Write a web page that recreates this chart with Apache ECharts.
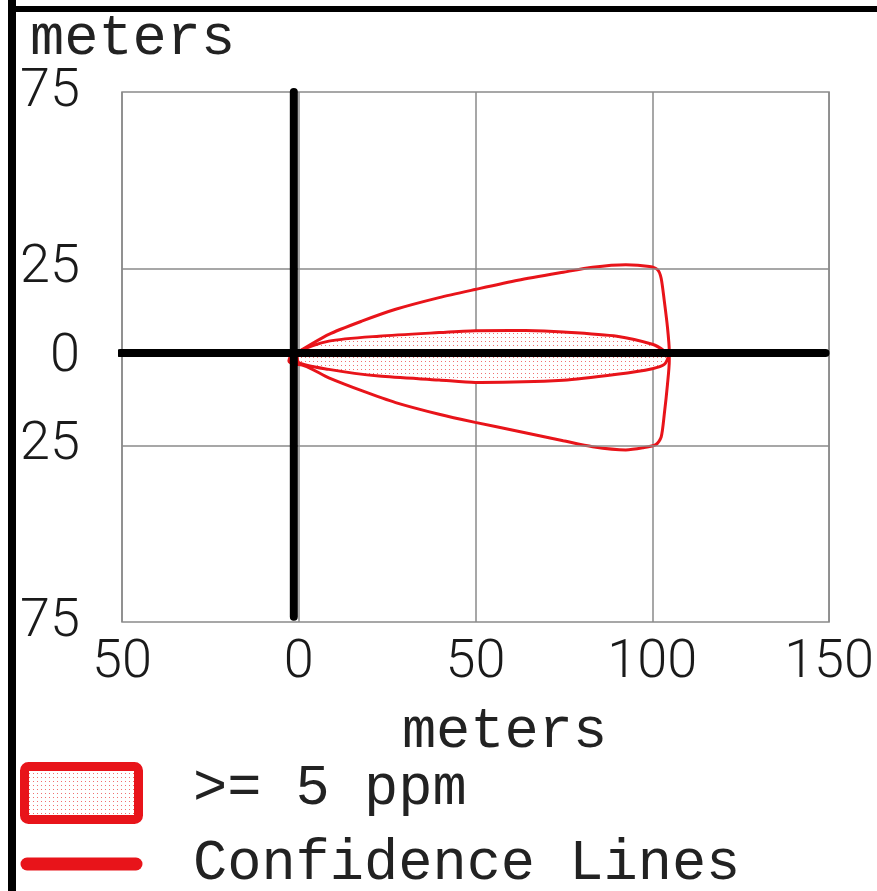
<!DOCTYPE html>
<html>
<head>
<meta charset="utf-8">
<script src="https://cdn.jsdelivr.net/npm/echarts@6/dist/echarts.min.js"></script>
<style>
  html, body { margin: 0; padding: 0; background: #fff; }
  #chart { width: 877px; height: 891px; }
</style>
</head>
<body>
<div id="chart"></div>
<script>
// x / y ticks (labels drawn without sign, as in the picture)
const xTicks = [-50, 0, 50, 100, 150];
const yTickLabels = [-75, -25, 0, 25, 75];
const yGridLines = [25, -25];

// >= 5 ppm footprint, outline in drawing order
const plumeX = [0, 8.5, 22.7, 39.7, 49.9, 64.2, 74.8, 90, 100, 103.4, 104.5,
                103.4, 100, 90, 74.8, 49.9, 39.7, 22.7, 8.5, 0];
const plumeY = [1.5, 4.5, 5.9, 6.9, 7.4, 7.5, 7.1, 5.9, 3.6, 1.7, 0.2,
                -2.1, -3.3, -4.9, -6.6, -7.2, -6.5, -5.4, -3.5, -1.6];

// confidence envelope, one continuous line (ends in the little hook left of 0)
const confX = [0, 8.5, 18, 27.4, 39.7, 49.9, 62, 74.8, 83.1, 92.5, 99.2, 101.5, 102.5, 103.4, 104.3, 104.8,
               104.8, 104.3, 103.4, 102.5, 101, 97.3, 92.5, 83.1, 74.8, 62, 49.9, 39.7, 27.4, 18, 8.5, 0,
               -1.4, -2.8, -2.4];
const confY = [1.5, 6.4, 10.2, 13.5, 16.8, 19.1, 21.7, 24.0, 25.4, 26.1, 25.6, 24.7, 22.3, 15.8, 8.3, 1.7,
               -1.1, -7.7, -16.1, -22.7, -24.8, -25.7, -26.3, -25.4, -23.7, -21.0, -18.5, -16.2, -12.9, -9.6, -5.9, -2.1,
               -2.1, -1.1, 0.3];

// heavy black cross-hair
const crossV = [[-1.4, 75], [-1.4, -73.5]];
const crossH = [[-50.6, 1.1], [149, 1.1]];

const RED = '#e8141a';
const MONO = '"Liberation Mono", "Courier New", monospace';
const TICK_FONT = 'Roboto, "DejaVu Sans", sans-serif';

// dotted fill
function dotPattern() {
    const c = document.createElement('canvas');
    c.width = 4;
    c.height = 4;
    const ctx = c.getContext('2d');
    ctx.fillStyle = '#ffffff';
    ctx.fillRect(0, 0, 4, 4);
    ctx.fillStyle = '#f07070';
    ctx.fillRect(1, 1, 1, 1);
    return c;
}
const pattern = { image: dotPattern(), repeat: 'repeat' };

const plumePts = plumeX.map((x, i) => [x, plumeY[i]]);
const confPts = confX.map((x, i) => [x, confY[i]]);

const myChart = echarts.init(document.getElementById('chart'));

const option = {
    animation: false,
    backgroundColor: '#fff',
    grid: {
        left: 122,
        top: 92,
        width: 708,
        height: 530,
        show: true,
        borderColor: '#8a8a8a',
        borderWidth: 1.5,
        backgroundColor: 'transparent'
    },
    xAxis: {
        type: 'value',
        min: -50,
        max: 150,
        interval: 50,
        name: 'meters',
        nameLocation: 'middle',
        nameGap: 81,
        nameTextStyle: { fontFamily: MONO, fontSize: 57, color: '#222', padding: [0, 0, 0, 58] },
        axisLine: { show: false },
        axisTick: { show: false },
        splitLine: { show: true, lineStyle: { color: '#8a8a8a', width: 1.5 } },
        axisLabel: {
            margin: 14,
            fontFamily: TICK_FONT,
            fontWeight: 300,
            fontSize: 54,
            color: '#1a1a1a',
            formatter: v => xTicks.indexOf(v) >= 0 ? String(Math.abs(v)) : ''
        }
    },
    yAxis: {
        type: 'value',
        min: -75,
        max: 75,
        interval: 25,
        axisLine: { show: false },
        axisTick: { show: false },
        splitLine: { show: false },
        axisLabel: {
            margin: 42,
            fontFamily: TICK_FONT,
            fontWeight: 300,
            fontSize: 54,
            color: '#1a1a1a',
            showMinLabel: true,
            showMaxLabel: true,
            formatter: v => yTickLabels.indexOf(v) >= 0 ? String(Math.abs(v)) : ''
        }
    },
    series: [
        {
            // >= 5 ppm area
            type: 'custom',
            z: 3,
            silent: true,
            data: plumePts,
            encode: { x: 0, y: 1 },
            renderItem: function (params, api) {
                if (params.dataIndex !== 0) return;
                const pts = plumePts.map(p => api.coord(p));
                return {
                    type: 'polygon',
                    shape: { points: pts, smooth: 0.25 },
                    style: { fill: pattern, stroke: RED, lineWidth: 3 }
                };
            },
            markLine: {
                silent: true,
                symbol: 'none',
                label: { show: false },
                lineStyle: { color: '#8a8a8a', width: 1.5, type: 'solid' },
                data: yGridLines.map(v => ({ yAxis: v }))
            }
        },
        {
            // confidence lines
            type: 'line',
            z: 4,
            data: confPts,
            showSymbol: false,
            smooth: 0.25,
            lineStyle: { color: RED, width: 3 }
        },
        {
            type: 'line',
            z: 6,
            data: crossV,
            showSymbol: false,
            lineStyle: { color: '#000', width: 8, cap: 'round' }
        },
        {
            type: 'line',
            z: 6,
            data: crossH,
            showSymbol: false,
            lineStyle: { color: '#000', width: 8, cap: 'round' }
        }
    ],
    graphic: [
        // page frame (left and top)
        { type: 'rect', shape: { x: 8, y: 0, width: 8, height: 891 }, style: { fill: '#000' } },
        { type: 'rect', shape: { x: 8, y: 6, width: 869, height: 6 }, style: { fill: '#000' } },
        {
            type: 'text', left: 30, top: 10,
            style: { text: 'meters', font: '57px ' + MONO, fill: '#222' }
        },
        // legend
        {
            type: 'rect',
            shape: { x: 24.5, y: 766.5, width: 114, height: 53, r: 4 },
            style: { fill: pattern, stroke: RED, lineWidth: 9 }
        },
        {
            type: 'text', left: 193, top: 760,
            style: { text: '>= 5 ppm', font: '57px ' + MONO, fill: '#222' }
        },
        {
            type: 'line',
            shape: { x1: 27, y1: 864, x2: 136, y2: 864 },
            style: { stroke: RED, lineWidth: 13, lineCap: 'round' }
        },
        {
            type: 'text', left: 193, top: 835,
            style: { text: 'Confidence Lines', font: '57px ' + MONO, fill: '#222' }
        }
    ]
};

myChart.setOption(option);
</script>
</body>
</html>
